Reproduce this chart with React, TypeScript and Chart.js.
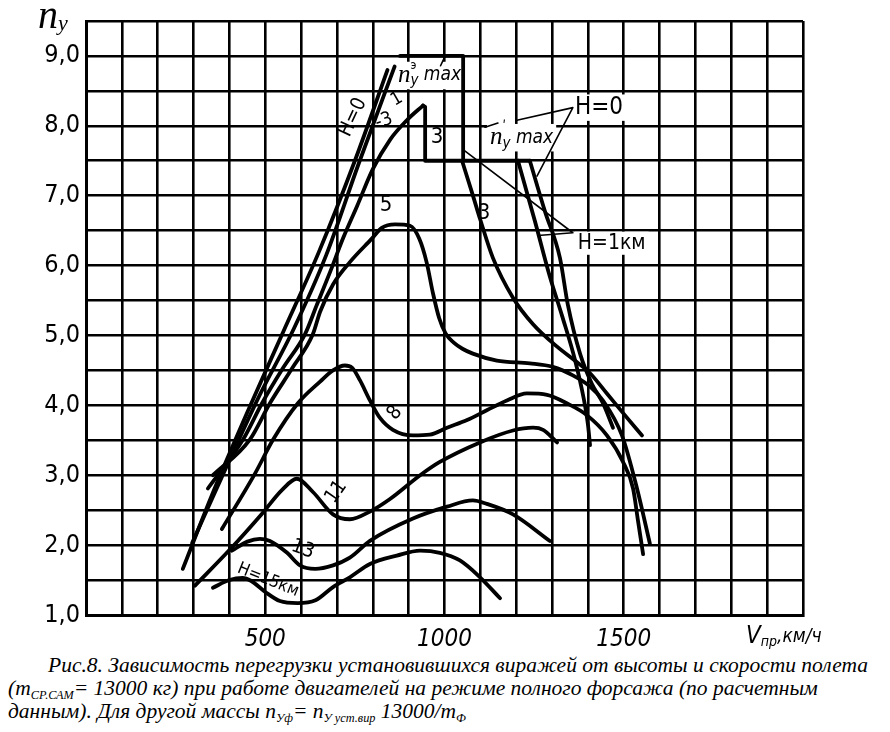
import React, { useEffect, useLayoutEffect, useRef } from "react";
import { Chart, registerables } from "chart.js";
Chart.register(...registerables);

type Pt = [number, number];

// ---------- axes ----------
const X_MIN = 0;
const X_MAX = 2000;
const X_STEP = 100;
const Y_MIN = 1;
const Y_MAX = 9.5;
const Y_STEP = 0.5;
const xTickLabels = [500, 1000, 1500];
const yTickLabels = [1, 2, 3, 4, 5, 6, 7, 8, 9];

// ---------- curves (V, km/h ; n_y) ----------
const curveH0Left: Pt[] = [[270, 1.66], [350, 2.7], [450, 3.9], [550, 5.05], [650, 6.2], [750, 7.5], [841, 8.8]];
const curveH1Left: Pt[] = [[296, 2.03], [390, 3.1], [480, 4.1], [580, 5.1], [670, 6.15], [760, 7.45], [861, 8.85]];
const curveH0Right: Pt[] = [[1205, 7.5], [1252, 6.64], [1294, 5.84], [1328, 5.28], [1364, 4.65], [1389, 4.08], [1400, 3.73], [1406, 3.43]];
const curveH1Right: Pt[] = [[1238, 7.5], [1280, 6.78], [1322, 6.11], [1344, 5.44], [1378, 4.74], [1411, 4.31], [1442, 4.03], [1470, 3.68]];
const curveH3Left: Pt[] = [[340, 2.81], [438, 3.51], [491, 4.03], [549, 4.53], [611, 5.02], [644, 5.44], [681, 5.91], [717, 6.39], [756, 6.85], [800, 7.38], [848, 7.8], [895, 8.08], [940, 8.29]];
const curveH3Step: Pt[] = [[940, 8.29], [946, 8.27], [946, 7.5], [1049, 7.5]];
const curveH3Right: Pt[] = [[1049, 7.5], [1077, 7.04], [1099, 6.67], [1135, 6.11], [1191, 5.54], [1247, 5.16], [1314, 4.84], [1369, 4.62], [1406, 4.46], [1453, 4.17], [1503, 3.86], [1551, 3.57]];
const curveH5: Pt[] = [[354, 3.0], [457, 3.51], [513, 4.03], [575, 4.53], [633, 5.02], [653, 5.34], [689, 5.73], [736, 6.05], [798, 6.39], [825, 6.54], [862, 6.59], [904, 6.57], [930, 6.38], [950, 6.05], [968, 5.6], [985, 5.25], [1003, 5.03], [1025, 4.9], [1050, 4.81], [1079, 4.74], [1146, 4.64], [1238, 4.6], [1302, 4.55], [1358, 4.43], [1406, 4.27], [1442, 4.07], [1495, 3.57], [1537, 2.81], [1573, 2.02]];
const curveH8: Pt[] = [[379, 2.23], [471, 3.02], [522, 3.51], [591, 4.03], [653, 4.34], [689, 4.5], [722, 4.57], [742, 4.54], [764, 4.36], [792, 4.07], [820, 3.82], [856, 3.65], [912, 3.57], [959, 3.58], [1007, 3.68], [1063, 3.79], [1118, 3.93], [1174, 4.07], [1230, 4.17], [1286, 4.15], [1341, 4.03], [1397, 3.86], [1453, 3.57], [1498, 3.19], [1526, 2.81], [1540, 2.34], [1554, 1.87]];
const curveH11: Pt[] = [[304, 1.42], [402, 1.94], [491, 2.45], [547, 2.79], [588, 2.95], [633, 2.76], [689, 2.44], [736, 2.37], [792, 2.48], [848, 2.66], [932, 3.0], [987, 3.19], [1099, 3.47], [1191, 3.64], [1247, 3.68], [1275, 3.65], [1314, 3.47]];
const curveH13: Pt[] = [[407, 1.92], [450, 2.05], [485, 2.09], [513, 2.06], [561, 1.89], [597, 1.71], [639, 1.66], [689, 1.71], [736, 1.82], [792, 2.06], [912, 2.38], [1007, 2.55], [1079, 2.64], [1118, 2.59], [1191, 2.44], [1294, 2.06]];
const curveH15: Pt[] = [[354, 1.39], [400, 1.5], [437, 1.53], [460, 1.49], [500, 1.33], [541, 1.2], [590, 1.17], [640, 1.21], [689, 1.4], [736, 1.54], [792, 1.73], [867, 1.85], [932, 1.92], [987, 1.89], [1043, 1.78], [1099, 1.54], [1155, 1.24]];
const limitNyMax: Pt[] = [[876, 9.0], [1052, 9.0], [1052, 7.5], [1238, 7.5]];

// ---------- leader lines ----------
const leaderH0: Pt[] = [[1202, 8.08], [1358, 8.26], [1258, 7.28]];
const leaderH1: Pt[] = [[1052, 7.66], [1358, 6.47], [1261, 6.43]];
const leaderNe: Pt[] = [[989, 8.86], [1002, 9.0]];
const leaderNp: Pt[] = [[1113, 7.98], [1149, 8.04]];

// ---------- labels ----------
const SANS = '"Liberation Sans Narrow", "DejaVu Sans Condensed", "Liberation Sans", sans-serif';
const SERIF = '"Liberation Serif", "DejaVu Serif", serif';

type Seg = { t: string; size: number; italic?: boolean; serif?: boolean; dy?: number; stack?: boolean };
type Lab = { segs: Seg[]; x: number; y: number; rot?: number; left?: boolean; knock?: boolean; pixel?: boolean };

const chartLabels: Lab[] = [
  { x: 870, y: 8.72, left: true, knock: true, segs: [
    { t: "n", size: 25, italic: true, serif: true },
    { t: "э", size: 12, dy: -10, stack: true },
    { t: "y", size: 15, italic: true, dy: 6 },
    { t: " max", size: 19, italic: true }] },
  { x: 1127, y: 7.83, left: true, knock: true, segs: [
    { t: "n", size: 25, italic: true, serif: true },
    { t: "ʹ", size: 14, dy: -10, stack: true },
    { t: "y", size: 15, italic: true, dy: 6 },
    { t: " max", size: 19, italic: true }] },
  { x: 1364, y: 8.26, left: true, knock: true, segs: [{ t: "H=0", size: 24 }] },
  { x: 1372, y: 6.32, left: true, knock: true, segs: [{ t: "H=1км", size: 21 }] },
  { x: 745, y: 8.12, rot: -65, segs: [{ t: "H=0", size: 20 }] },
  { x: 867, y: 8.38, rot: -30, segs: [{ t: "1", size: 18 }] },
  { x: 831, y: 8.07, rot: -20, segs: [{ t: "-3", size: 19 }] },
  { x: 979, y: 7.83, segs: [{ t: "3", size: 22 }] },
  { x: 837, y: 6.87, segs: [{ t: "5", size: 22 }] },
  { x: 1110, y: 6.75, segs: [{ t: "3", size: 22 }] },
  { x: 862, y: 3.89, rot: -50, segs: [{ t: "8", size: 20 }] },
  { x: 698, y: 2.76, rot: -55, segs: [{ t: "11", size: 20 }] },
  { x: 605, y: 1.94, rot: 20, segs: [{ t: "13", size: 20 }] },
  { x: 508, y: 1.5, rot: 22, segs: [{ t: "H=15км", size: 17 }] },
  { x: 38, y: 17, pixel: true, left: true, segs: [
    { t: "n", size: 40, italic: true, serif: true },
    { t: "y", size: 22, italic: true, serif: true, dy: 7 }] },
  { x: 746, y: 637, pixel: true, left: true, segs: [
    { t: "V", size: 24, italic: true },
    { t: "пр", size: 14, italic: true, dy: 5 },
    { t: ",км/ч", size: 19, italic: true }] },
];

function fontOf(s: Seg) {
  return `${s.italic ? "italic " : ""}${s.size}px ${s.serif ? SERIF : SANS}`;
}

function drawLabel(chart: any, lab: Lab, mode: "box" | "text") {
  const ctx: CanvasRenderingContext2D = chart.ctx;
  const px = lab.pixel ? lab.x : chart.scales.x.getPixelForValue(lab.x);
  const py = lab.pixel ? lab.y : chart.scales.y.getPixelForValue(lab.y);
  ctx.save();
  ctx.translate(px, py);
  if (lab.rot) ctx.rotate((lab.rot * Math.PI) / 180);
  const widths: number[] = [];
  let w = 0;
  let hmax = 0;
  for (const s of lab.segs) {
    ctx.font = fontOf(s);
    const m = ctx.measureText(s.t).width;
    widths.push(m);
    if (!s.stack) w += m;
    hmax = Math.max(hmax, s.size);
  }
  let cx = lab.left ? 0 : -w / 2;
  if (mode === "box") {
    ctx.fillStyle = "#fff";
    ctx.fillRect(cx - 3, -hmax * 0.55, w + 6, hmax * 1.1);
  } else {
    ctx.fillStyle = "#000";
    ctx.textBaseline = "middle";
    ctx.textAlign = "left";
    lab.segs.forEach((s, i) => {
      ctx.font = fontOf(s);
      ctx.fillText(s.t, cx, s.dy || 0);
      if (!s.stack) cx += widths[i];
    });
  }
  ctx.restore();
}

const labelPlugin = {
  id: "labels",
  beforeDatasetsDraw(chart: any) {
    chartLabels.filter((l) => l.knock).forEach((l) => drawLabel(chart, l, "box"));
  },
  afterDatasetsDraw(chart: any) {
    chartLabels.forEach((l) => drawLabel(chart, l, "text"));
  },
};

function ds(pts: Pt[], width = 3.8, smooth = true) {
  return {
    data: pts.map(([x, y]) => ({ x, y })),
    showLine: true,
    borderColor: "#000",
    backgroundColor: "#000",
    borderWidth: width,
    pointRadius: 0,
    tension: 0,
    cubicInterpolationMode: smooth ? "monotone" : "default",
    borderJoinStyle: "round",
    borderCapStyle: "round",
    clip: false,
  };
}

const isInt = (v: number) => Math.abs(v - Math.round(v)) < 1e-6;

export default function App() {
  const canvasRef = useRef<HTMLCanvasElement>(null);
  const capRef = useRef<HTMLDivElement>(null);

  useEffect(() => {
    if (!canvasRef.current) return;
    const datasets: any[] = [
      ds(curveH0Left), ds(curveH1Left), ds(curveH0Right), ds(curveH1Right),
      ds(curveH3Left), ds(curveH3Step, 3.8, false), ds(curveH3Right),
      ds(curveH5), ds(curveH8), ds(curveH11), ds(curveH13), ds(curveH15),
      ds(limitNyMax, 3.8, false),
      ds(leaderH0, 1.6, false), ds(leaderH1, 1.6, false), ds(leaderNe, 1.6, false), ds(leaderNp, 1.6, false),
    ];
    const chart = new Chart(canvasRef.current, {
      type: "scatter",
      data: { datasets },
      options: {
        animation: false,
        responsive: false,
        layout: { padding: { left: 0, top: 11, right: 87, bottom: 0 } },
        plugins: { legend: { display: false }, tooltip: { enabled: false } },
        scales: {
          x: {
            type: "linear",
            min: X_MIN,
            max: X_MAX,
            afterFit: (s: any) => { s.height = 35; },
            border: { color: "#000", width: 3 },
            grid: { color: "#000", lineWidth: 2.6, drawTicks: false },
            ticks: {
              stepSize: X_STEP,
              autoSkip: false,
              maxRotation: 0,
              padding: 10,
              color: "#000",
              font: { family: SANS, size: 24, style: "italic" },
              callback: (v: any) => (xTickLabels.includes(Number(v)) ? String(v) : ""),
            },
          },
          y: {
            type: "linear",
            min: Y_MIN,
            max: Y_MAX,
            afterFit: (s: any) => { s.width = 86; },
            border: { color: "#000", width: 3 },
            grid: { color: "#000", lineWidth: 2.6, drawTicks: false },
            ticks: {
              stepSize: Y_STEP,
              autoSkip: false,
              padding: 6,
              color: "#000",
              font: { family: SANS, size: 25 },
              callback: (v: any) => {
                const n = Number(v);
                return isInt(n) && yTickLabels.includes(Math.round(n)) ? n.toFixed(1).replace(".", ",") : "";
              },
            },
          },
        },
      } as any,
      plugins: [labelPlugin],
    });
    return () => chart.destroy();
  }, []);

  useLayoutEffect(() => {
    const el = capRef.current;
    if (!el) return;
    const first = el.querySelector('[data-l="1"]') as HTMLElement;
    const w = first.getBoundingClientRect().width;
    const s = 820 / w;
    el.querySelectorAll(".cap").forEach((e) => {
      (e as HTMLElement).style.transform = `scaleX(${s})`;
    });
  }, []);

  const sub: React.CSSProperties = { fontSize: 12, position: "relative", top: 4 };
  const line: React.CSSProperties = { position: "absolute", whiteSpace: "nowrap", transformOrigin: "0 0", lineHeight: "23px" };

  return (
    <div style={{ position: "absolute", left: 0, top: 0, width: 890, height: 732, background: "#fff", overflow: "hidden" }}>
      <canvas ref={canvasRef} width={890} height={650} style={{ position: "absolute", left: 0, top: 0, width: 890, height: 650 }} />
      <div ref={capRef} style={{ position: "absolute", left: 0, top: 0, fontFamily: SERIF, fontStyle: "italic", fontSize: 21, color: "#000" }}>
        <div className="cap" data-l="1" style={{ ...line, left: 48, top: 654 }}>
          Рис.8. Зависимость перегрузки установившихся виражей от высоты и скорости полета
        </div>
        <div className="cap" style={{ ...line, left: 8, top: 677 }}>
          (m<span style={sub}>СР.САМ</span>= 13000 кг) при работе двигателей на режиме полного форсажа (по расчетным
        </div>
        <div className="cap" style={{ ...line, left: 8, top: 700 }}>
          данным). Для другой массы n<span style={sub}>Уф</span>= n<span style={sub}>У уст.вир</span> 13000/m<span style={sub}>Ф</span>
        </div>
      </div>
    </div>
  );
}
